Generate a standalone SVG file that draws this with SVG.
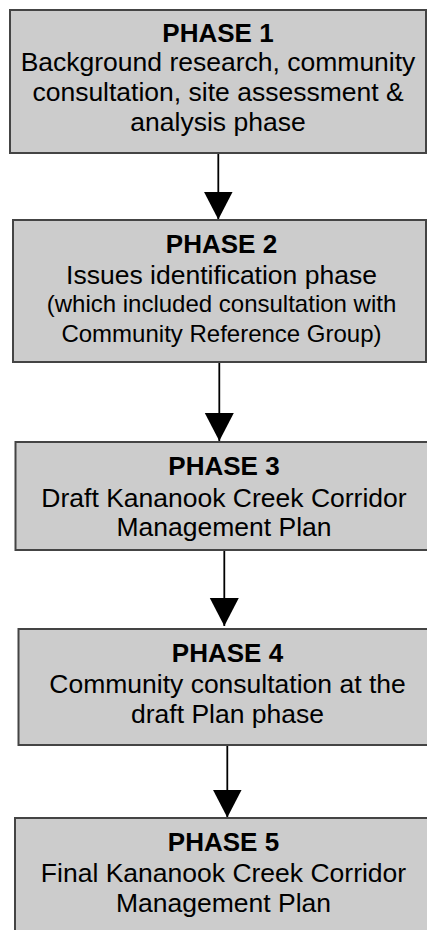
<svg xmlns="http://www.w3.org/2000/svg" width="427" height="930" viewBox="0 0 427 930">
<style>
.box{fill:#cccccc;stroke:#444444;stroke-width:2}
text{font-family:"Liberation Sans",Arial,sans-serif;fill:#000;text-anchor:middle;font-size:26.5px}
.t{font-weight:bold;font-size:26px}
.s{font-size:24px}
.c{stroke:#000;stroke-width:1.8;fill:none}
</style>
<defs>
<marker id="ah" markerUnits="userSpaceOnUse" markerWidth="30" markerHeight="30" refX="28" refY="14.5" orient="auto">
<path d="M0,0 L28,14.5 L0,29 z" fill="#000"/>
</marker>
</defs>
<rect width="427" height="930" fill="#fff"/>
<g id="connectors">
<line class="c" x1="218.3" y1="153" x2="218.3" y2="219.5" marker-end="url(#ah)"/>
<line class="c" x1="219.3" y1="362" x2="219.3" y2="441" marker-end="url(#ah)"/>
<line class="c" x1="224.3" y1="550" x2="224.3" y2="626" marker-end="url(#ah)"/>
<line class="c" x1="227.3" y1="745" x2="227.3" y2="817.5" marker-end="url(#ah)"/>
</g>
<g id="phase1">
<rect class="box" x="10" y="10" width="416" height="143"/>
<text class="t" x="218" y="42">PHASE 1</text>
<text x="218" y="70.5">Background research, community</text>
<text x="218" y="100.7">consultation, site assessment &amp;</text>
<text x="218" y="131">analysis phase</text>
</g>
<g id="phase2">
<rect class="box" x="13" y="220" width="413" height="142"/>
<text class="t" x="221.5" y="253.3">PHASE 2</text>
<text x="221.5" y="284.3">Issues identification phase</text>
<text class="s" x="221.5" y="312">(which included consultation with</text>
<text class="s" x="221.5" y="342">Community Reference Group)</text>
</g>
<g id="phase3">
<rect class="box" x="15.5" y="442" width="417" height="108"/>
<text class="t" x="224" y="475">PHASE 3</text>
<text x="224" y="507">Draft Kananook Creek Corridor</text>
<text x="224" y="536">Management Plan</text>
</g>
<g id="phase4">
<rect class="box" x="18.5" y="629" width="418" height="116"/>
<text class="t" x="227.5" y="661.7">PHASE 4</text>
<text x="227.5" y="693.3">Community consultation at the</text>
<text x="227.5" y="723.3">draft Plan phase</text>
</g>
<g id="phase5">
<rect class="box" x="15" y="818" width="417" height="130"/>
<text class="t" x="223.5" y="850.7">PHASE 5</text>
<text x="223.5" y="881.7">Final Kananook Creek Corridor</text>
<text x="223.5" y="911.7">Management Plan</text>
</g>
</svg>
